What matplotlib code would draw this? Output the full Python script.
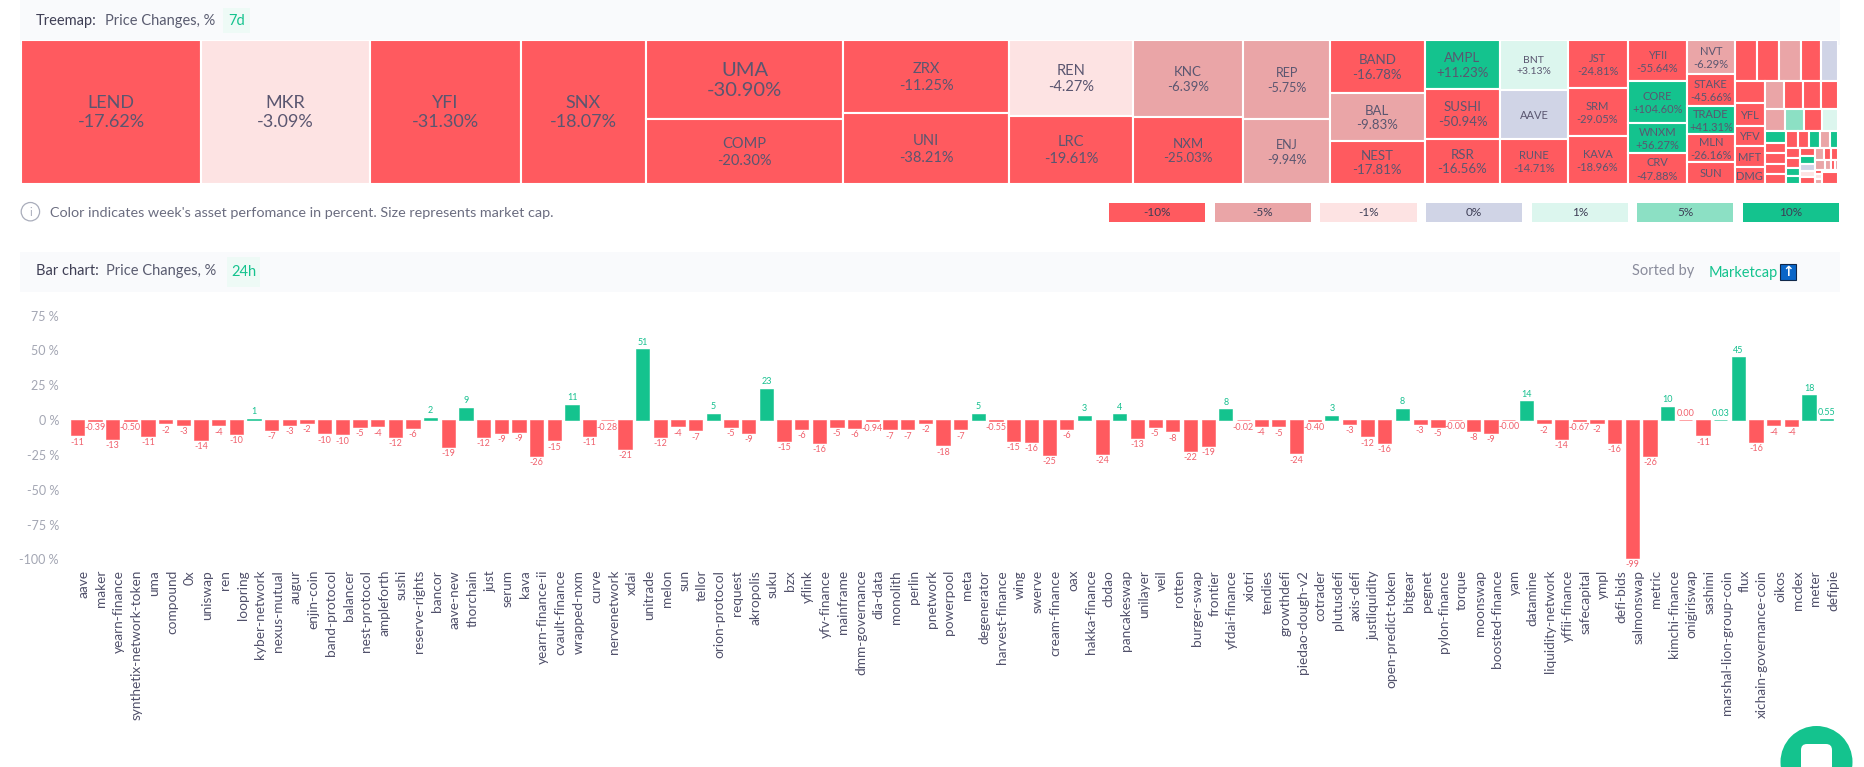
import numpy as np
import matplotlib
matplotlib.use("Agg")
import matplotlib.pyplot as plt
from matplotlib.patches import Rectangle, Circle, FancyBboxPatch

plt.rcParams['font.family'] = ['Lato', 'DejaVu Sans']

# bar chart data
coins = [
    "aave", "maker", "yearn-finance", "synthetix-network-token", "uma", "compound", "0x",
    "uniswap", "ren", "loopring", "kyber-network", "nexus-mutual", "augur", "enjin-coin",
    "band-protocol", "balancer", "nest-protocol", "ampleforth", "sushi", "reserve-rights",
    "bancor", "aave-new", "thorchain", "just", "serum", "kava", "yearn-finance-ii",
    "cvault-finance", "wrapped-nxm", "curve", "nervenetwork", "xdai", "unitrade", "melon",
    "sun", "tellor", "orion-protocol", "request", "akropolis", "suku", "bzx", "yflink",
    "yfv-finance", "mainframe", "dmm-governance", "dia-data", "monolith", "perlin",
    "pnetwork", "powerpool", "meta", "degenerator", "harvest-finance", "wing", "swerve",
    "cream-finance", "oax", "hakka-finance", "cbdao", "pancakeswap", "unilayer", "veil",
    "rotten", "burger-swap", "frontier", "yfdai-finance", "xiotri", "tendies", "growthdefi",
    "piedao-dough-v2", "cotrader", "plutusdefi", "axis-defi", "justliquidity",
    "open-predict-token", "bitgear", "pegnet", "pylon-finance", "torque", "moonswap",
    "boosted-finance", "yam", "datamine", "liquidity-network", "yffii-finance",
    "safecapital", "ympl", "defi-bids", "salmonswap", "metric", "kimchi-finance",
    "onigiriswap", "sashimi", "marshal-lion-group-coin", "flux", "xichain-governance-coin",
    "oikos", "mcdex", "meter", "defipie",
]
changes_24h = [
    -11.0, -0.39, -13.4, -0.50, -11.2, -2.4, -3.3, -14.3, -3.8, -9.8,
    1.0, -6.9, -3.3, -1.9, -9.6, -10.3, -4.8, -4.4, -12.2, -5.6,
    1.7, -19.1, 8.8, -12.0, -9.3, -8.6, -25.8, -14.6, 11.0, -11.2,
    -0.28, -20.8, 51.0, -12.0, -4.4, -7.4, 4.6, -4.8, -9.1, 22.6,
    -14.8, -6.4, -16.3, -4.8, -5.6, -0.94, -6.6, -6.6, -1.9, -18.2,
    -6.7, 4.6, -0.55, -15.0, -15.8, -25.1, -6.4, 3.1, -24.4, 4.1,
    -12.6, -4.8, -8.1, -22.0, -18.6, 7.7, -0.02, -4.3, -4.6, -23.7,
    -0.40, 3.1, -2.6, -11.7, -16.3, 8.1, -2.6, -5.0, -0.004, -7.9,
    -9.1, -0.004, 13.6, -2.2, -13.6, -0.67, -1.9, -16.3, -99.0, -25.8,
    9.6, 0.0, -11.0, 0.03, 45.0, -15.8, -3.8, -4.1, 17.9, 0.55,
]
y_ticks = [75, 50, 25, 0, -25, -50, -75, -100]
y_tick_labels = ["75 %", "50 %", "25 %", "0 %", "-25 %", "-50 %", "-75 %", "-100 %"]

# treemap data, one inner list per column, size is an estimate of market cap
col_names = [
    ["LEND"], ["MKR"], ["YFI"], ["SNX"], ["UMA", "COMP"], ["ZRX", "UNI"], ["REN", "LRC"],
    ["KNC", "NXM"], ["REP", "ENJ"], ["BAND", "BAL", "NEST"], ["AMPL", "SUSHI", "RSR"],
    ["BNT", "AAVE", "RUNE"], ["JST", "SRM", "KAVA"], ["YFII", "CORE", "WNXM", "CRV"],
    ["NVT", "STAKE", "TRADE", "MLN", "SUN"],
]
col_changes = [
    [-17.62], [-3.09], [-31.30], [-18.07], [-30.90, -20.30], [-11.25, -38.21], [-4.27, -19.61],
    [-6.39, -25.03], [-5.75, -9.94], [-16.78, -9.83, -17.81], [11.23, -50.94, -16.56],
    [3.13, 0, -14.71], [-24.81, -29.05, -18.96], [-55.64, 104.60, 56.27, -47.88],
    [-6.29, -45.66, 41.31, -26.16, -10],
]
col_sizes = [
    [255.2], [239.0], [213.5], [176.6], [153.7, 125.4], [119.5, 115.0], [92.6, 82.8],
    [83.4, 73.0], [67.3, 55.0], [49.9, 44.2, 40.1], [36.4, 37.0, 33.6],
    [32.9, 32.4, 29.9], [28.1, 28.8, 28.1], [24.3, 24.2, 17.9, 17.9],
    [15.8, 14.8, 13.1, 13.3, 10.0],
]
col_fonts = [13, 13, 13, 13, 10.5, 10.5, 10.5, 9.5, 9, 9.5, 9.5, 8, 8, 8, 8]
font_override = {"UMA": 14.5, "BNT": 7.5, "SUN": 8}
no_percent = ["AAVE", "SUN", "YFL", "YFV", "MFT", "DMG"]

# last column, the small coins (name, change, size) nested by alternating split
tail_top = [("", -10, 9.2), ("", -10, 8.7), ("", -5, 9.0), ("", -10, 8.2), ("", 0, 6.9)]
tail_named = [("", -10, 6.6), ("YFL", -10, 6.6), ("YFV", -10, 6.1), ("MFT", -10, 6.2), ("DMG", -10, 5.0)]
tail_row_a = [("", -5, 5.2), ("", -10, 5.3), ("", -10, 5.0), ("", -10, 4.6)]
tail_row_b = [("", -5, 4.4), ("", 5, 4.2), ("", -10, 3.9), ("", 1, 3.4)]
tail_col_1 = [("", 10, 2.4), ("", -10, 2.2), ("", -10, 2.2), ("", -10, 2.2), ("", -10, 2.0)]
tail_row_c = [("", -10, 2.0), ("", -10, 1.9), ("", 10, 1.8), ("", -5, 1.6), ("", 10, 1.4)]
tail_col_a = [("", -10, 1.4), ("", -10, 1.3), ("", 10, 1.2), ("", 10, 1.0)]
tail_col_b = [("", -10, 1.2), ("", 10, 1.1), ("", 0, 1.0), ("", -1, 0.95), ("", -10, 1.0)]
tail_row_d = [("", -5, 1.05), ("", -10, 0.87), ("", -10, 0.78)]
tail_row_e = [("", -5, 0.93), ("", -5, 0.61), ("", -10, 0.32), ("", -5, 0.32)]
tail_col_f = [("", -10, 0.28), ("", -1, 0.36), ("", -5, 0.3)]
tail_row_g = [("", -10, 0.09), ("", -10, 0.09), ("", -1, 0.09)]

legend_values = [-10, -5, -1, 0, 1, 5, 10]
legend_labels = ["-10%", "-5%", "-1%", "0%", "1%", "5%", "10%"]

RED = "#ff5a5f"
GREEN = "#14c38e"
TEXT = "#5a5670"


def cell_color(v):
    if v <= -10:
        return RED
    if v <= -5:
        return "#eaa5a7"
    if v < 0:
        return "#fde3e3"
    if v == 0:
        return "#d0d4e6"
    if v < 5:
        return "#dcf6ee"
    if v < 10:
        return "#8ce0c4"
    return GREEN


def node_size(node):
    if isinstance(node, tuple):
        return node[2]
    return sum(node_size(n) for n in node)


def draw_node(ax, node, x0, y0, x1, y1, horizontal):
    # slice the box along one direction, children get the other direction
    if isinstance(node, tuple):
        draw_leaf(ax, node, x0, y0, x1, y1)
        return
    total = node_size(node)
    pos = x0 if horizontal else y0
    for child in node:
        frac = node_size(child) / total
        if horizontal:
            nxt = pos + frac * (x1 - x0)
            draw_node(ax, child, pos, y0, nxt, y1, False)
        else:
            nxt = pos + frac * (y1 - y0)
            draw_node(ax, child, x0, pos, x1, nxt, True)
        pos = nxt


def draw_leaf(ax, leaf, x0, y0, x1, y1):
    name, change, fontsize = leaf[0], leaf[1], leaf_font.get(leaf[0], 8)
    ax.add_patch(Rectangle((x0, y0), x1 - x0, y1 - y0, facecolor=cell_color(change),
                           edgecolor="white", linewidth=1.5))
    if not name:
        return
    label = name
    if name not in no_percent:
        label = "%s\n%+.2f%%" % (name, change)
    ax.text((x0 + x1) / 2, (y0 + y1) / 2 + 0.007, label, ha="center", va="center",
            fontsize=fontsize, color=TEXT, linespacing=1.25)


def px_axes(fig, left, top, right, bottom):
    W, H = fig.get_size_inches() * fig.dpi
    ax = fig.add_axes([left / W, 1 - bottom / H, (right - left) / W, (bottom - top) / H])
    ax.patch.set_alpha(0)
    return ax


fig = plt.figure(figsize=(18.65, 7.67), dpi=100, facecolor="white")

# page furniture, in pixel coordinates
bg = px_axes(fig, 0, 0, 1865, 767)
bg.set_xlim(0, 1865)
bg.set_ylim(767, 0)
bg.axis("off")
bg.add_patch(Rectangle((20, 0), 1820, 45, facecolor="#f9fafc", edgecolor="none"))
bg.add_patch(Rectangle((20, 252), 1820, 40, facecolor="#f9fafc", edgecolor="none"))
bg.add_patch(Rectangle((223, 8), 27, 25, facecolor="#eefaf6", edgecolor="none"))
bg.add_patch(Rectangle((227, 257), 33, 30, facecolor="#eefaf6", edgecolor="none"))

bg.text(36, 21, "Treemap:", fontsize=10.5, color="#3f3f55", va="center")
bg.text(105, 21, "Price Changes, %", fontsize=10.5, color="#5a5c70", va="center")
bg.text(237, 21, "7d", fontsize=10.5, color=GREEN, va="center", ha="center")
bg.text(36, 271, "Bar chart:", fontsize=10.5, color="#3f3f55", va="center")
bg.text(106, 271, "Price Changes, %", fontsize=10.5, color="#5a5c70", va="center")
bg.text(244, 272, "24h", fontsize=10.5, color=GREEN, va="center", ha="center")

bg.add_patch(Circle((30.4, 211.7), 9.2, facecolor="none", edgecolor="#a9adbb", linewidth=0.9))
bg.text(30.4, 212, "i", fontsize=8, color="#a9adbb", ha="center", va="center")
bg.text(50.4, 213, "Color indicates week's asset perfomance in percent. Size represents market cap.",
        fontsize=10.4, color="#6b6d80", va="center")

bg.text(1632, 271, "Sorted by", fontsize=10.5, color="#8a8c9c", va="center")
bg.text(1708.5, 272.5, "Marketcap", fontsize=10.5, color=GREEN, va="center")
bg.add_patch(Rectangle((1780, 264), 16, 16, facecolor="#0a66c8", edgecolor="#10284a", linewidth=0.8))
bg.text(1788, 272, "\u2191", fontsize=10, color="white", ha="center", va="center",
        family="DejaVu Sans", fontweight="bold")

# chat button in the corner
bg.add_patch(Circle((1816.5, 762), 36, facecolor=GREEN, edgecolor="none"))
bg.add_patch(FancyBboxPatch((1801, 744), 31, 34, boxstyle="round,pad=0,rounding_size=6",
                            facecolor="white", edgecolor="none"))

# treemap
leaf_font = dict(font_override)
for names, font in zip(col_names, col_fonts):
    for name in names:
        leaf_font.setdefault(name, font)
for name in ["YFL", "YFV", "MFT", "DMG"]:
    leaf_font[name] = 8

columns = []
for names, changes, sizes in zip(col_names, col_changes, col_sizes):
    columns.append(list(zip(names, changes, sizes)))
tail_lower = [tail_col_a, tail_col_b,
              [tail_row_d, tail_row_e, [tail_col_f, [tail_row_g, ("", -10, 1.92)]]]]
tail_block = [tail_col_1, [tail_row_c, tail_lower]]
columns.append([tail_top, [tail_named, [tail_row_a, tail_row_b, tail_block]]])

ax_tree = px_axes(fig, 20.9, 40, 1838, 183.7)
ax_tree.set_xlim(0, 1)
ax_tree.set_ylim(1, 0)
ax_tree.axis("off")
draw_node(ax_tree, columns, 0, 0, 1, 1, True)

# colour legend
ax_leg = px_axes(fig, 1104.5, 203, 1843.8, 222)
ax_leg.bar(range(len(legend_values)), [1] * len(legend_values), width=0.91,
           color=[cell_color(v) for v in legend_values])
ax_leg.set_xlim(-0.5, len(legend_values) - 0.5)
ax_leg.set_ylim(0, 1)
ax_leg.axis("off")
for i, lab in enumerate(legend_labels):
    ax_leg.text(i, 0.5, lab, ha="center", va="center", fontsize=8.5, color="#3d3d55")

# bar chart
ax = px_axes(fig, 59.6, 315.5, 1844.3, 559.4)
x = np.arange(len(coins))
vals = np.array(changes_24h)
colors = [GREEN if v > 0 else RED for v in vals]
ax.bar(x, vals, width=0.75, color=colors, edgecolor=colors, linewidth=0.4)
for i, v in enumerate(vals):
    txt = "%.2f" % v if abs(v) < 1 else "%d" % round(v)
    off = 5 if v >= 0 else -5
    ax.annotate(txt, (i, v), xytext=(0, off), textcoords="offset points", ha="center", va="center",
                fontsize=6.5, color="#17c08f" if v > 0 else "#f0616d")

ax.set_xlim(-1, len(coins))
ax.set_ylim(-100, 75)
ax.set_yticks(y_ticks)
ax.set_yticklabels(y_tick_labels, fontsize=9, color="#a3a6b3")
ax.set_xticks(x + 0.36)
ax.set_xticklabels(coins, rotation=90, fontsize=9.8, color="#50506a")
ax.tick_params(axis="both", length=0)
ax.tick_params(axis="x", pad=7.6)
ax.tick_params(axis="y", pad=0.5)
for s in ax.spines.values():
    s.set_visible(False)

fig.savefig("out.png", dpi=100, facecolor="white")
